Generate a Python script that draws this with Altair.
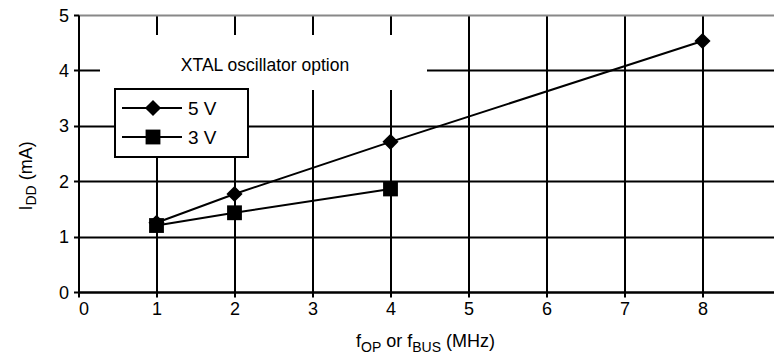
import altair as alt
import pandas as pd

# ---- data ----
freq_5v = [1, 2, 4, 8]
idd_5v = [1.25, 1.77, 2.71, 4.53]
freq_3v = [1, 2, 4]
idd_3v = [1.20, 1.43, 1.86]
series_names = ["5 V", "3 V"]
x_ticks = [0, 1, 2, 3, 4, 5, 6, 7, 8, 9]
y_ticks = [0, 1, 2, 3, 4, 5]
annotation = "XTAL oscillator option"

FONT = "Liberation Sans, Arial, Helvetica, sans-serif"
PX_PER_UNIT = 78.0
W, H = 695.5, 277
X_MAX = W / PX_PER_UNIT  # the x=9 edge falls just past the window, as in the reference

df = pd.DataFrame({
    "f": freq_5v + freq_3v,
    "idd": idd_5v + idd_3v,
    "s": [series_names[0]] * len(freq_5v) + [series_names[1]] * len(freq_3v),
})

x_scale = alt.Scale(domain=[0, X_MAX], nice=False, zero=False)
y_scale = alt.Scale(domain=[0, 5], nice=False, zero=False)

x_enc = alt.X("f:Q", scale=x_scale, axis=alt.Axis(
    values=x_ticks, title=None, grid=True, format="d",
    gridColor="black", gridWidth=2, domainColor="black", domainWidth=2,
    tickColor="black", tickWidth=2, tickSize=5, labelFont=FONT,
    labelFontSize=18, labelColor="black", labelPadding=3))
y_enc = alt.Y("idd:Q", scale=y_scale, axis=alt.Axis(
    values=y_ticks, title=None, grid=True, format="d",
    gridColor={"condition": {"test": "datum.value >= 5", "value": "#888888"}, "value": "black"},
    gridWidth=2, domainColor="black", domainWidth=2, tickColor="black",
    tickWidth=2, tickSize=5, labelFont=FONT, labelFontSize=18,
    labelColor="black", labelPadding=5, labelOffset=1))

base = alt.Chart(df)

lines = base.mark_line(color="black", strokeWidth=2).encode(
    x=x_enc, y=y_enc, detail="s:N")
points = base.mark_point(filled=True, color="black", opacity=1).encode(
    x=x_enc, y=y_enc,
    shape=alt.Shape("s:N", scale=alt.Scale(domain=series_names, range=["diamond", "square"]), legend=None),
    size=alt.Size("s:N", scale=alt.Scale(domain=series_names, range=[260, 220]), legend=None),
)

one = alt.Data(values=[{"a": 1}])


def txt(s, x, y, size, angle=0, align="left", baseline="alphabetic"):
    kw = dict(font=FONT, fontSize=size, color="black", align=align, baseline=baseline)
    if angle:
        kw["angle"] = angle
    return alt.Chart(one).mark_text(**kw).encode(
        x=alt.value(x), y=alt.value(y), text=alt.value(s))


def box(x1, x2, y1, y2, stroke=None):
    kw = dict(fill="white")
    if stroke:
        kw.update(stroke=stroke, strokeWidth=2)
    return alt.Chart(one).mark_rect(**kw).encode(
        x=alt.value(x1), x2=alt.value(x2), y=alt.value(y1), y2=alt.value(y2))


# annotation background + text
anno_bg = box(21.5, 348.5, 20, 75)
anno_txt = txt(annotation, 186.5, 56, 17.5, align="center")

# legend
leg_box = box(36.5, 169.5, 74, 142, stroke="black")
leg_items = []
for i, (nm, shp, sz) in enumerate(zip(series_names, ["diamond", "square"], [260, 220])):
    yy = 93 + 29 * i
    leg_items.append(alt.Chart(one).mark_rule(color="black", strokeWidth=2).encode(
        x=alt.value(43.5), x2=alt.value(103.5), y=alt.value(yy)))
    leg_items.append(alt.Chart(one).mark_point(filled=True, color="black", opacity=1,
                                               shape=shp, size=sz).encode(
        x=alt.value(74.5), y=alt.value(yy)))
    leg_items.append(txt(nm, 109.5, yy + 1, 19, baseline="middle"))

# axis titles with subscripts
y_title = [
    txt("I", -46.5, 195.5, 18, angle=270),
    txt("DD", -42.5, 190.5, 14, angle=270),
    txt("(mA)", -46.5, 165.3, 18, angle=270),
]
x_title = [
    txt("f", 277.5, 332, 18),
    txt("OP", 282.5, 337, 14),
    txt("or f", 307.7, 332, 18),
    txt("BUS", 333.7, 337, 14),
    txt("(MHz)", 367.5, 332, 18),
]

chart = alt.layer(
    lines, points, anno_bg, anno_txt, leg_box, *leg_items, *y_title, *x_title
).properties(
    width=W, height=H,
    autosize=alt.AutoSizeParams(type="none"),
    padding={"left": 70.5, "top": 7, "right": 0, "bottom": 64},
).configure_view(
    stroke="#888888", strokeWidth=2
).configure(background="white")

chart.save("out.html", embed_options={"renderer": "svg", "actions": False})
